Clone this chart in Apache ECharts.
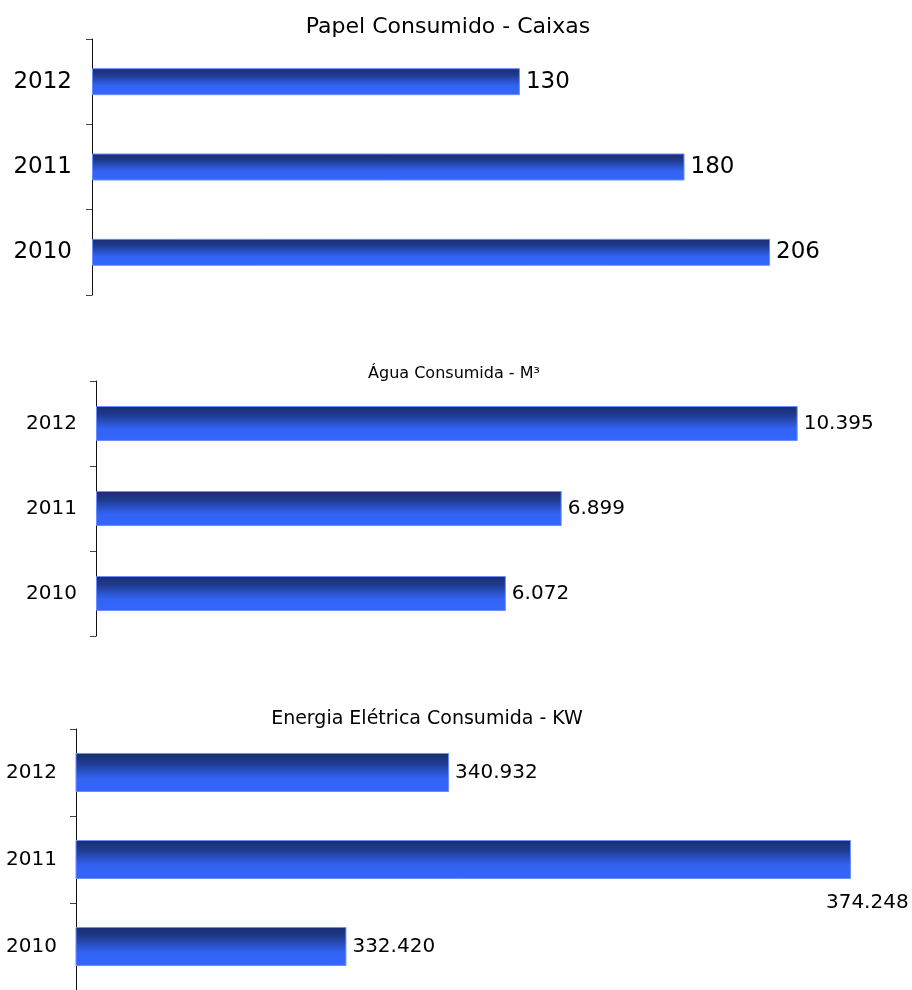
<!DOCTYPE html>
<html>
<head>
<meta charset="utf-8">
<title>Consumo</title>
<script src="https://cdn.jsdelivr.net/npm/echarts@6/dist/echarts.min.js"></script>
<style>
  html, body { margin: 0; padding: 0; background: #fff; }
  #chart { width: 912px; height: 990px; }
</style>
</head>
<body>
<div id="chart"></div>
<script>
// dados
const anos = ["2010", "2011", "2012"];
const papel = [206, 180, 130];
const agua = [6072, 6899, 10395];
const energia = [332420, 374248, 340932];
const titulos = ["Papel Consumido - Caixas", "Água Consumida - M³", "Energia Elétrica Consumida - KW"];

const fonte = "DejaVu Sans";

// separador de milhar com ponto
const fmt = function (v) {
  return String(v).replace(/\B(?=(\d{3})+(?!\d))/g, ".");
};

const barColor = new echarts.graphic.LinearGradient(0, 0, 0, 1, [
  { offset: 0, color: "#192c70" },
  { offset: 0.25, color: "#1f3a8e" },
  { offset: 0.65, color: "#3263f2" },
  { offset: 1, color: "#3366ff" },
]);

const yAxisBase = (idx, size, margin) => ({
  type: "category",
  gridIndex: idx,
  data: anos,
  axisLine: { show: true, lineStyle: { color: "#111", width: 1 } },
  axisTick: { show: true, length: 6, lineStyle: { color: "#444" } },
  axisLabel: { color: "#000", fontSize: size, fontFamily: fonte, margin: margin },
  splitLine: { show: false },
});

const xAxisBase = (idx, min, max) => ({
  type: "value",
  gridIndex: idx,
  min: min,
  max: max,
  show: false,
});

const serie = (idx, values, barW, size) => ({
  type: "bar",
  xAxisIndex: idx,
  yAxisIndex: idx,
  barWidth: barW,
  data: values,
  itemStyle: { color: barColor, borderColor: "#6a8dff", borderWidth: 1 },
  label: {
    show: true,
    position: "right",
    distance: 6,
    color: "#000",
    fontSize: size,
    fontFamily: fonte,
    formatter: (p) => fmt(p.value),
  },
});

const chart = echarts.init(document.getElementById("chart"));

const energiaSerie = serie(2, energia, 39, 20);
// o rótulo de 2011 fica abaixo da barra
energiaSerie.data = energia.map((v, i) =>
  i === 1 ? { value: v, label: { offset: [-31, 43] } } : v
);

const option = {
  animation: false,
  title: [
    { text: titulos[0], left: 448, top: 16, textAlign: "center", padding: 0,
      textStyle: { fontSize: 22, fontWeight: "normal", color: "#000", fontFamily: fonte } },
    { text: titulos[1], left: 454, top: 366, textAlign: "center", padding: 0,
      textStyle: { fontSize: 16, fontWeight: "normal", color: "#000", fontFamily: fonte } },
    { text: titulos[2], left: 427, top: 710, textAlign: "center", padding: 0,
      textStyle: { fontSize: 19, fontWeight: "normal", color: "#000", fontFamily: fonte } },
  ],
  grid: [
    { left: 92, top: 39, width: 790, height: 256 },
    { left: 96, top: 381, width: 810, height: 255 },
    { left: 76, top: 729, width: 784, height: 270 },
  ],
  xAxis: [
    xAxisBase(0, 0, 240),
    xAxisBase(1, 0, 12000),
    xAxisBase(2, 310000, 375000),
  ],
  yAxis: [
    yAxisBase(0, 23, 20),
    yAxisBase(1, 20, 19),
    yAxisBase(2, 20, 19),
  ],
  series: [
    serie(0, papel, 27, 23),
    serie(1, agua, 35, 20),
    energiaSerie,
  ],
};

chart.setOption(option);
</script>
</body>
</html>
